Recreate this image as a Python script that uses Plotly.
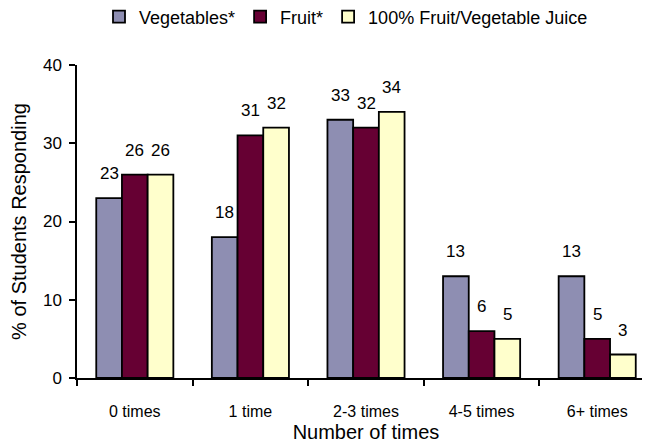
import plotly.graph_objects as go

categories = ["0 times", "1 time", "2-3 times", "4-5 times", "6+ times"]
vegetables = [23, 18, 33, 13, 13]
fruit = [26, 31, 32, 6, 5]
juice = [26, 32, 34, 5, 3]

series = [
    ("Vegetables*", vegetables, "#8E8EB2"),
    ("Fruit*", fruit, "#660033"),
    ("100% Fruit/Vegetable Juice", juice, "#FFFFCC"),
]

FONT = "Liberation Sans, Arial, sans-serif"
W, H = 650, 448

# plot area in figure px (page adds an 8px body margin)
PLOT_L, PLOT_R, PLOT_T, PLOT_B = 69, 647, 57, 370
X_RANGE = [-0.5, 4.5]
BARGAP = 0.333
unit_px = (PLOT_R - PLOT_L) / (X_RANGE[1] - X_RANGE[0])
bar_px = unit_px * (1 - BARGAP) / len(series)

fig = go.Figure()
annotations = []
for i, (name, values, color) in enumerate(series):
    fig.add_trace(
        go.Bar(
            name=name,
            x=categories,
            y=values,
            marker=dict(color=color, line=dict(color="black", width=1.8)),
        )
    )
    # value labels sitting above each bar
    for cat, v in zip(categories, values):
        annotations.append(
            dict(
                x=cat,
                y=v,
                xref="x",
                yref="y",
                text=str(v),
                showarrow=False,
                xanchor="center",
                yanchor="bottom",
                xshift=(i - 1) * bar_px,
                yshift=13,
                font=dict(size=17, color="black"),
            )
        )

fig.update_layout(
    width=W,
    height=H,
    barmode="group",
    bargap=BARGAP,
    bargroupgap=0,
    plot_bgcolor="white",
    paper_bgcolor="white",
    font=dict(family=FONT, color="black", size=16),
    margin=dict(l=PLOT_L, r=W - PLOT_R, t=PLOT_T, b=H - PLOT_B, autoexpand=False),
    showlegend=True,
    legend=dict(
        orientation="h",
        x=0.52,
        xanchor="center",
        xref="container",
        y=1 + (PLOT_T - 9) / (PLOT_B - PLOT_T),
        yref="paper",
        yanchor="middle",
        font=dict(size=18),
        itemwidth=30,
    ),
    annotations=annotations,
)

fig.update_xaxes(
    range=X_RANGE,
    showline=True,
    linecolor="black",
    linewidth=1.5,
    ticks="outside",
    tickson="boundaries",
    ticklen=6,
    tickwidth=1.5,
    tickcolor="black",
    tickfont=dict(size=16),
    ticklabelstandoff=18,
    title=dict(text="Number of times", font=dict(size=20), standoff=6),
    showgrid=False,
    automargin=False,
)

fig.update_yaxes(
    range=[0, 40],
    dtick=10,
    showline=True,
    linecolor="black",
    linewidth=1.5,
    ticks="outside",
    ticklen=6,
    tickwidth=1.5,
    tickcolor="black",
    tickfont=dict(size=17),
    ticklabelstandoff=4,
    title=dict(text="% of Students Responding", font=dict(size=20), standoff=12),
    showgrid=False,
    zeroline=False,
    automargin=False,
)

fig.write_html("out.html")
